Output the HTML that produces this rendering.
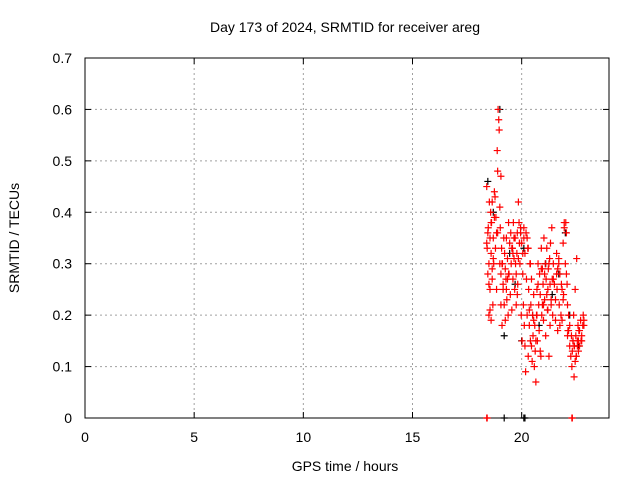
<!DOCTYPE html>
<html><head><meta charset="utf-8"><style>
body{margin:0;background:#fff;}
svg text{font-family:"Liberation Sans",sans-serif;font-size:14px;fill:#000;}
</style></head><body>
<svg id="chart" width="640" height="480" xmlns="http://www.w3.org/2000/svg">
<rect width="640" height="480" fill="#fff"/>
<g id="grid"></g>
<g id="axes"></g>
<g id="marks"></g>
<text x="345" y="32" text-anchor="middle">Day 173 of 2024, SRMTID for receiver areg</text>
<text x="345" y="471" text-anchor="middle">GPS time / hours</text>
<text transform="translate(19,238) rotate(-90)" text-anchor="middle">SRMTID / TECUs</text>
</svg>
<script>
const xTicks=[0,5,10,15,20];
const yTicks=[0,0.1,0.2,0.3,0.4,0.5,0.6,0.7];
const yTickLabels=["0","0.1","0.2","0.3","0.4","0.5","0.6","0.7"];
const redHours=[18.4,18.42,18.45,18.47,18.5,18.5,18.52,18.55,18.55,18.58,18.6,18.6,18.62,18.65,18.65,18.68,18.7,18.72,18.75,18.78,18.8,18.82,18.85,18.88,18.9,18.92,18.95,18.97,19.0,19.0,19.02,19.05,19.05,19.08,19.1,19.12,19.15,19.18,19.2,19.22,19.25,19.28,19.3,19.32,19.35,19.38,19.4,19.42,19.45,19.48,19.5,19.52,19.55,19.58,19.6,19.62,19.65,19.68,19.7,19.72,19.75,19.78,19.8,19.82,19.85,19.88,19.9,19.92,19.95,19.98,20.0,20.02,20.05,20.08,20.1,20.12,20.15,20.18,20.2,20.22,20.25,20.28,20.3,20.32,20.35,20.38,20.4,20.42,20.45,20.48,20.5,20.52,20.55,20.58,20.6,20.62,20.65,20.68,20.7,20.72,20.75,20.78,20.8,20.82,20.85,20.88,20.9,20.92,20.95,20.98,21.0,21.02,21.05,21.08,21.1,21.12,21.15,21.18,21.2,21.22,21.25,21.28,21.3,21.32,21.35,21.38,21.4,21.42,21.45,21.5,21.55,21.6,21.62,21.65,21.7,21.72,21.75,21.8,21.82,21.85,21.9,21.92,21.95,22.0,22.02,22.05,22.08,22.1,22.12,22.15,22.2,22.25,22.28,22.3,22.32,22.35,22.38,22.4,22.42,22.45,22.48,22.5,22.52,22.55,22.58,22.6,22.62,22.65,22.7,22.72,22.75,22.8,22.82,22.85,
18.4,18.6,18.9,19.1,19.4,19.6,19.9,20.1,20.4,20.7,21.0,21.3,21.6,21.9,22.2,22.4,22.6,18.5,18.7,19.3,19.8,20.3,20.9,21.2,21.7,22.1,22.5,
18.45,18.55,18.65,18.75,18.85,19.05,19.15,19.25,19.35,19.55,19.65,19.75,19.85,19.95,20.05,20.15,20.25,20.35,20.45,20.55,20.65,20.75,20.85,20.95,21.05,21.15,21.25,21.35,21.45,21.55,21.65,21.75,21.85,21.95,22.05,22.15,22.35,22.45,22.55,22.65,22.75,22.85,
18.4,18.42,22.3,22.32];
const redValues=[0.45,0.33,0.28,0.37,0.3,0.2,0.42,0.35,0.25,0.4,0.32,0.19,0.38,0.27,0.42,0.22,0.35,0.3,0.44,0.43,0.33,0.39,0.25,0.52,0.48,0.6,0.58,0.56,0.41,0.3,0.37,0.28,0.22,0.33,0.18,0.3,0.26,0.35,0.22,0.32,0.19,0.27,0.35,0.23,0.31,0.2,0.38,0.28,0.34,0.24,0.36,0.3,0.21,0.33,0.27,0.38,0.31,0.25,0.35,0.3,0.28,0.32,0.36,0.26,0.42,0.38,0.34,0.3,0.36,0.2,0.34,0.15,0.28,0.22,0.37,0.18,0.32,0.09,0.36,0.27,0.2,0.33,0.12,0.25,0.18,0.3,0.15,0.22,0.27,0.11,0.2,0.16,0.24,0.1,0.18,0.13,0.07,0.2,0.25,0.15,0.3,0.22,0.17,0.28,0.24,0.12,0.33,0.2,0.29,0.26,0.19,0.35,0.23,0.3,0.16,0.27,0.33,0.21,0.25,0.29,0.12,0.31,0.18,0.34,0.23,0.37,0.27,0.2,0.3,0.26,0.19,0.32,0.25,0.17,0.3,0.22,0.28,0.2,0.26,0.19,0.34,0.24,0.38,0.3,0.38,0.36,0.26,0.22,0.17,0.2,0.14,0.12,0.16,0.1,0.13,0.15,0.2,0.08,0.14,0.25,0.16,0.12,0.31,0.15,0.18,0.13,0.17,0.14,0.19,0.15,0.16,0.18,0.2,0.19,
0.34,0.38,0.36,0.3,0.28,0.32,0.34,0.35,0.3,0.2,0.22,0.26,0.28,0.23,0.18,0.14,0.15,0.26,0.31,0.25,0.24,0.33,0.29,0.21,0.31,0.16,0.12,
0.36,0.21,0.29,0.39,0.36,0.47,0.25,0.29,0.27,0.33,0.35,0.22,0.31,0.37,0.32,0.14,0.35,0.21,0.14,0.19,0.15,0.26,0.13,0.22,0.28,0.24,0.3,0.22,0.27,0.23,0.29,0.18,0.25,0.37,0.28,0.17,0.15,0.11,0.14,0.17,0.15,0.18,
0,0,0,0];
const blackHours=[18.45,18.7,19.0,19.2,19.45,19.7,20.0,20.1,20.5,20.8,21.1,21.4,21.7,22.0,22.2,22.6,19.2,20.1,20.15];
const blackValues=[0.46,0.4,0.6,0.16,0.32,0.26,0.15,0.33,0.2,0.18,0.3,0.24,0.28,0.36,0.2,0.14,0,0,0];
const NS="http://www.w3.org/2000/svg";
const L=85,R=609,T=58,B=418;
function xs(h){return L+(h/24)*(R-L);}
function ys(v){return B-(v/0.7)*(B-T);}
function mk(tag,attrs,parent){const e=document.createElementNS(NS,tag);for(const k in attrs)e.setAttribute(k,attrs[k]);parent.appendChild(e);return e;}
const grid=document.getElementById('grid'),axes=document.getElementById('axes'),marks=document.getElementById('marks');
xTicks.forEach(t=>{const x=xs(t);
 if(t>0){const g=mk('line',{x1:x,x2:x,y1:T,y2:B,stroke:'#a0a0a0','stroke-dasharray':'2,3'},grid);
 
 }
 mk('line',{x1:x,x2:x,y1:B,y2:B-6,stroke:'#000'},axes);mk('line',{x1:x,x2:x,y1:T,y2:T+6,stroke:'#000'},axes);
 const lb=mk('text',{x:x,y:B+24,'text-anchor':'middle'},axes);lb.textContent=t;
 
 });
yTicks.forEach((t,i)=>{const y=ys(t);
 if(t>0&&t<0.7){const g=mk('line',{x1:L,x2:R,y1:y,y2:y,stroke:'#a0a0a0','stroke-dasharray':'2,3'},grid);
 
 }
 mk('line',{x1:L,x2:L+6,y1:y,y2:y,stroke:'#000'},axes);mk('line',{x1:R,x2:R-6,y1:y,y2:y,stroke:'#000'},axes);
 const lb=mk('text',{x:L-13,y:y+5,'text-anchor':'end'},axes);lb.textContent=yTickLabels[i];
 
 });
mk('rect',{x:L,y:T,width:R-L,height:B-T,fill:'none',stroke:'#000'},axes);
function cross(h,v,col){const x=xs(h),y=ys(v);
 const p=mk('path',{d:`M${x-3.5},${y}H${x+3.5}M${x},${y-3.5}V${y+3.5}`,stroke:col,'stroke-width':1.2},marks);
 
 }
blackHours.forEach((h,i)=>cross(h,blackValues[i],'#000'));
redHours.forEach((h,i)=>cross(h,redValues[i],'#f00'));
</script>
</body></html>
